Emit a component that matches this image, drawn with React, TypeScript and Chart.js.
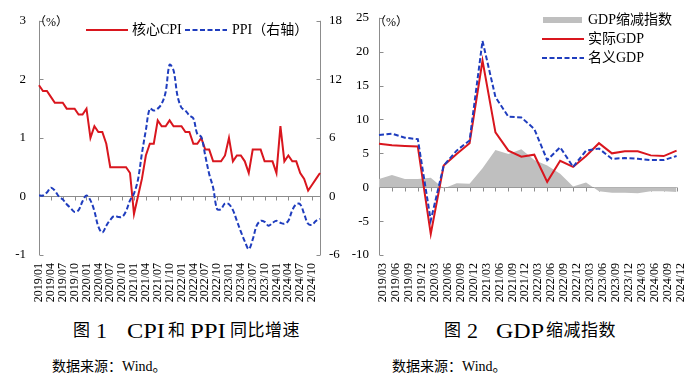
import React, { useEffect, useRef } from "react";
import { Chart, registerables } from "chart.js";

Chart.register(...registerables);

// ---------- data ----------
const years = ["2019", "2020", "2021", "2022", "2023", "2024"];
const monthNums = ["01", "02", "03", "04", "05", "06", "07", "08", "09", "10", "11", "12"];
const monthLabels: string[] = years.flatMap((y) => monthNums.map((m) => `${y}/${m}`));

const coreCPI = [
  1.9, 1.8, 1.8, 1.7, 1.6, 1.6, 1.6, 1.5, 1.5, 1.5, 1.4, 1.4,
  1.5, 1.0, 1.2, 1.1, 1.1, 0.9, 0.5, 0.5, 0.5, 0.5, 0.5, 0.4,
  -0.3, 0.0, 0.3, 0.7, 0.9, 0.9, 1.3, 1.2, 1.2, 1.3, 1.2, 1.2,
  1.2, 1.1, 1.1, 0.9, 0.9, 1.0, 0.8, 0.8, 0.6, 0.6, 0.6, 0.7,
  1.0, 0.6, 0.7, 0.7, 0.6, 0.4, 0.8, 0.8, 0.8, 0.6, 0.6, 0.6,
  0.4, 1.2, 0.6, 0.7, 0.6, 0.6, 0.4, 0.3, 0.1, 0.2, 0.3, 0.4,
];

const ppi = [
  0.1, 0.1, 0.4, 0.9, 0.6, 0.0, -0.3, -0.8, -1.2, -1.6, -1.4, -0.5,
  0.1, -0.4, -1.5, -3.1, -3.7, -3.0, -2.4, -2.0, -2.1, -2.1, -1.5, -0.4,
  0.3, 1.7, 4.4, 6.8, 9.0, 8.8, 9.0, 9.5, 10.7, 13.5, 12.9, 10.3,
  9.1, 8.8, 8.3, 8.0, 6.4, 6.1, 4.2, 2.3, 0.9, -1.3, -1.3, -0.7,
  -0.8, -1.4, -2.5, -3.6, -4.6, -5.4, -4.4, -3.0, -2.5, -2.6, -3.0, -2.7,
  -2.5, -2.7, -2.8, -2.5, -1.4, -0.8, -0.8, -1.8, -2.8, -2.9, -2.5, -2.3,
];

const quarterLabels = [
  "2019/03", "2019/06", "2019/09", "2019/12",
  "2020/03", "2020/06", "2020/09", "2020/12",
  "2021/03", "2021/06", "2021/09", "2021/12",
  "2022/03", "2022/06", "2022/09", "2022/12",
  "2023/03", "2023/06", "2023/09", "2023/12",
  "2024/03", "2024/06", "2024/09", "2024/12",
];

const realGDP = [
  6.4, 6.2, 6.1, 6.0, -6.9, 3.2, 4.9, 6.5, 18.7, 8.1, 5.4, 4.5,
  4.8, 0.8, 3.9, 3.0, 4.6, 6.5, 5.0, 5.3, 5.3, 4.7, 4.6, 5.4,
];
const nominalGDP = [
  7.7, 7.9, 7.3, 7.1, -4.9, 3.2, 5.4, 6.9, 21.6, 13.3, 10.4, 10.3,
  8.6, 4.0, 5.9, 3.0, 5.4, 5.7, 4.2, 4.3, 4.2, 4.0, 4.0, 4.6,
];
const gdpDeflator = [
  1.2, 1.8, 1.2, 1.2, 1.4, -0.2, 0.6, 0.5, 2.8, 5.5, 4.9, 5.6,
  4.0, 3.2, 2.0, 0.1, 0.7, -0.6, -0.8, -0.8, -0.9, -0.6, -0.6, -0.7,
];

// ---------- styles ----------
const RED = "#D9161E";
const BLUE = "#1F3DBE";
const GREY_AREA = "#BFBFBF";
const AXIS = "#8C8C8C";
const SERIF = "'Liberation Serif', 'Noto Sans CJK SC', serif";
const LATIN = "'Liberation Serif'";

type DecoOpts = { leftId: string; rightId?: string; xStart: number; xEvery: number };

function makeAxesPlugin(o: DecoOpts) {
  return {
    id: "axesDeco",
    beforeDatasetsDraw(chart: any) {
      const { ctx, chartArea: a, scales } = chart;
      const x = scales.x;
      const y = scales[o.leftId];
      ctx.save();
      ctx.strokeStyle = AXIS;
      ctx.lineWidth = 1;
      ctx.beginPath();
      const L = Math.round(a.left) + 0.5;
      ctx.moveTo(L, a.top);
      ctx.lineTo(L, a.bottom);
      y.ticks.forEach((t: any) => {
        const py = Math.round(y.getPixelForValue(t.value)) + 0.5;
        ctx.moveTo(L, py);
        ctx.lineTo(L + 4, py);
      });
      if (o.rightId) {
        const y2 = scales[o.rightId];
        const R = Math.round(a.right) + 0.5;
        ctx.moveTo(R, a.top);
        ctx.lineTo(R, a.bottom);
        y2.ticks.forEach((t: any) => {
          const py = Math.round(y2.getPixelForValue(t.value)) + 0.5;
          ctx.moveTo(R, py);
          ctx.lineTo(R - 4, py);
        });
      }
      const zy = Math.round(y.getPixelForValue(0)) + 0.5;
      ctx.moveTo(a.left, zy);
      ctx.lineTo(a.right, zy);
      const n = x.getLabels().length;
      for (let i = o.xStart; i < n; i += o.xEvery) {
        const px = Math.round(x.getPixelForValue(i)) + 0.5;
        ctx.moveTo(px, zy);
        ctx.lineTo(px, zy + 4);
      }
      ctx.stroke();
      ctx.restore();
    },
  };
}

function xAxis(labels: string[], every: number, height: number, labelOffset: number) {
  return {
    type: "category" as const,
    labels,
    offset: false,
    grid: { display: false, drawTicks: false },
    border: { display: false },
    ticks: {
      autoSkip: false,
      maxRotation: 90,
      minRotation: 90,
      padding: 8,
      labelOffset,
      color: "#000",
      font: { family: LATIN, size: 12 },
      callback: (_v: any, i: number) => (i % every === 0 ? labels[i] : ""),
    },
    afterFit: (s: any) => {
      s.height = height;
    },
  };
}

function yAxis(position: "left" | "right", min: number, max: number, step: number, width: number, pad: number) {
  return {
    type: "linear" as const,
    position,
    min,
    max,
    grid: { display: false, drawTicks: false },
    border: { display: false },
    ticks: {
      stepSize: step,
      padding: pad,
      color: "#000",
      font: { family: LATIN, size: 13 },
    },
    afterFit: (s: any) => {
      s.width = width;
    },
  };
}

function CpiChart() {
  const ref = useRef<HTMLCanvasElement>(null);
  useEffect(() => {
    if (!ref.current) return;
    const chart = new Chart(ref.current, {
      type: "line",
      data: {
        labels: monthLabels,
        datasets: [
          {
            label: "PPI（右轴）",
            data: ppi,
            yAxisID: "y1",
            borderColor: BLUE,
            borderWidth: 2,
            borderDash: [5, 2.5],
            tension: 0.35,
            pointRadius: 0,
            fill: false,
            order: 0,
          },
          {
            label: "核心CPI",
            data: coreCPI,
            yAxisID: "y",
            borderColor: RED,
            borderWidth: 2,
            tension: 0,
            pointRadius: 0,
            fill: false,
            order: 1,
          },
        ],
      },
      options: {
        responsive: false,
        animation: false,
        devicePixelRatio: 1,
        layout: { padding: { top: 17, left: 0, right: 0, bottom: 0 } },
        plugins: { legend: { display: false }, tooltip: { enabled: false } },
        scales: {
          x: xAxis(monthLabels, 3, 55, 0),
          y: yAxis("left", -1, 3, 1, 39, 13),
          y1: yAxis("right", -6, 18, 6, 30, 9),
        },
      },
      plugins: [makeAxesPlugin({ leftId: "y", rightId: "y1", xStart: 3, xEvery: 3 })],
    } as any);
    return () => chart.destroy();
  }, []);
  return <canvas ref={ref} width={350} height={310} style={{ position: "absolute", left: 0, top: 0 }} />;
}

function GdpChart() {
  const ref = useRef<HTMLCanvasElement>(null);
  useEffect(() => {
    if (!ref.current) return;
    const chart = new Chart(ref.current, {
      type: "line",
      data: {
        labels: quarterLabels,
        datasets: [
          {
            label: "名义GDP",
            data: nominalGDP,
            borderColor: BLUE,
            borderWidth: 2,
            borderDash: [5, 2.5],
            pointRadius: 0,
            tension: 0,
            fill: false,
            order: 0,
          },
          {
            label: "实际GDP",
            data: realGDP,
            borderColor: RED,
            borderWidth: 2,
            pointRadius: 0,
            tension: 0,
            fill: false,
            order: 1,
          },
          {
            label: "GDP缩减指数",
            data: gdpDeflator,
            borderWidth: 0,
            borderColor: "rgba(0,0,0,0)",
            backgroundColor: GREY_AREA,
            pointRadius: 0,
            tension: 0,
            fill: "origin",
            order: 2,
          },
        ],
      },
      options: {
        responsive: false,
        animation: false,
        devicePixelRatio: 1,
        layout: { padding: { top: 17, left: 0, right: 22, bottom: 0 } },
        plugins: { legend: { display: false }, tooltip: { enabled: false } },
        scales: {
          x: xAxis(quarterLabels, 1, 55, 4),
          y: yAxis("left", -10, 25, 5, 29, 10),
        },
      },
      plugins: [makeAxesPlugin({ leftId: "y", xStart: 1, xEvery: 1 })],
    } as any);
    return () => chart.destroy();
  }, []);
  return <canvas ref={ref} width={349} height={310} style={{ position: "absolute", left: 350, top: 0 }} />;
}

const abs = (left: number, cy: number, size: number, extra: React.CSSProperties = {}): React.CSSProperties => ({
  position: "absolute",
  left,
  top: cy - size * 0.65,
  fontSize: size,
  lineHeight: `${size * 1.3}px`,
  whiteSpace: "nowrap",
  fontFamily: SERIF,
  color: "#000",
  ...extra,
});

function LineSwatch({ left, cy, color, dashed }: { left: number; cy: number; color: string; dashed?: boolean }) {
  return (
    <svg width={42} height={6} style={{ position: "absolute", left, top: cy - 3 }}>
      <line x1={0} y1={3} x2={42} y2={3} stroke={color} strokeWidth={2} strokeDasharray={dashed ? "5 2.5" : undefined} />
    </svg>
  );
}

function Stretched({ text, left, cy, size, sx }: { text: string; left: number; cy: number; size: number; sx: number }) {
  return (
    <span
      style={{
        ...abs(left, cy, size),
        fontFamily: LATIN,
        display: "inline-block",
        transform: `scaleX(${sx})`,
        transformOrigin: "left center",
      }}
    >
      {text}
    </span>
  );
}

export default function App() {
  const TY = 331;
  return (
    <div
      style={{
        position: "fixed",
        left: 0,
        top: 0,
        width: 699,
        height: 386,
        background: "#fff",
        overflow: "hidden",
        fontFamily: SERIF,
      }}
    >
      <CpiChart />
      <GdpChart />

      {/* chart 1 unit + legend */}
      <span style={abs(34, 23, 12)}>（%）</span>
      <LineSwatch left={86} cy={30} color={RED} />
      <span style={abs(132, 30, 14)}>核心CPI</span>
      <LineSwatch left={185} cy={30} color={BLUE} dashed />
      <span style={abs(232, 30, 14)}>PPI（右轴）</span>

      {/* chart 2 unit + legend */}
      <span style={abs(374, 23, 12)}>（%）</span>
      <div style={{ position: "absolute", left: 543, top: 17, width: 39, height: 6, background: GREY_AREA }} />
      <span style={abs(588, 20, 14)}>GDP缩减指数</span>
      <LineSwatch left={542} cy={39} color={RED} />
      <span style={abs(588, 39, 14)}>实际GDP</span>
      <LineSwatch left={542} cy={58} color={BLUE} dashed />
      <span style={abs(588, 58, 14)}>名义GDP</span>

      {/* titles */}
      <span style={abs(73, TY, 17)}>图</span>
      <Stretched text="1" left={96} cy={TY} size={20} sx={1.1} />
      <Stretched text="CPI" left={127} cy={TY} size={20} sx={1.22} />
      <span style={abs(168, TY, 17)}>和</span>
      <Stretched text="PPI" left={190} cy={TY} size={20} sx={1.24} />
      <span style={abs(230, TY, 17, { letterSpacing: 0.5 })}>同比增速</span>

      <span style={abs(444, TY, 17)}>图</span>
      <Stretched text="2" left={467} cy={TY} size={20} sx={1.1} />
      <Stretched text="GDP" left={496} cy={TY} size={20} sx={1.2} />
      <span style={abs(546, TY, 17, { letterSpacing: 0.5 })}>缩减指数</span>

      <span style={abs(52, 367, 14)}>数据来源：Wind。</span>
      <span style={abs(392, 367, 14)}>数据来源：Wind。</span>
    </div>
  );
}
